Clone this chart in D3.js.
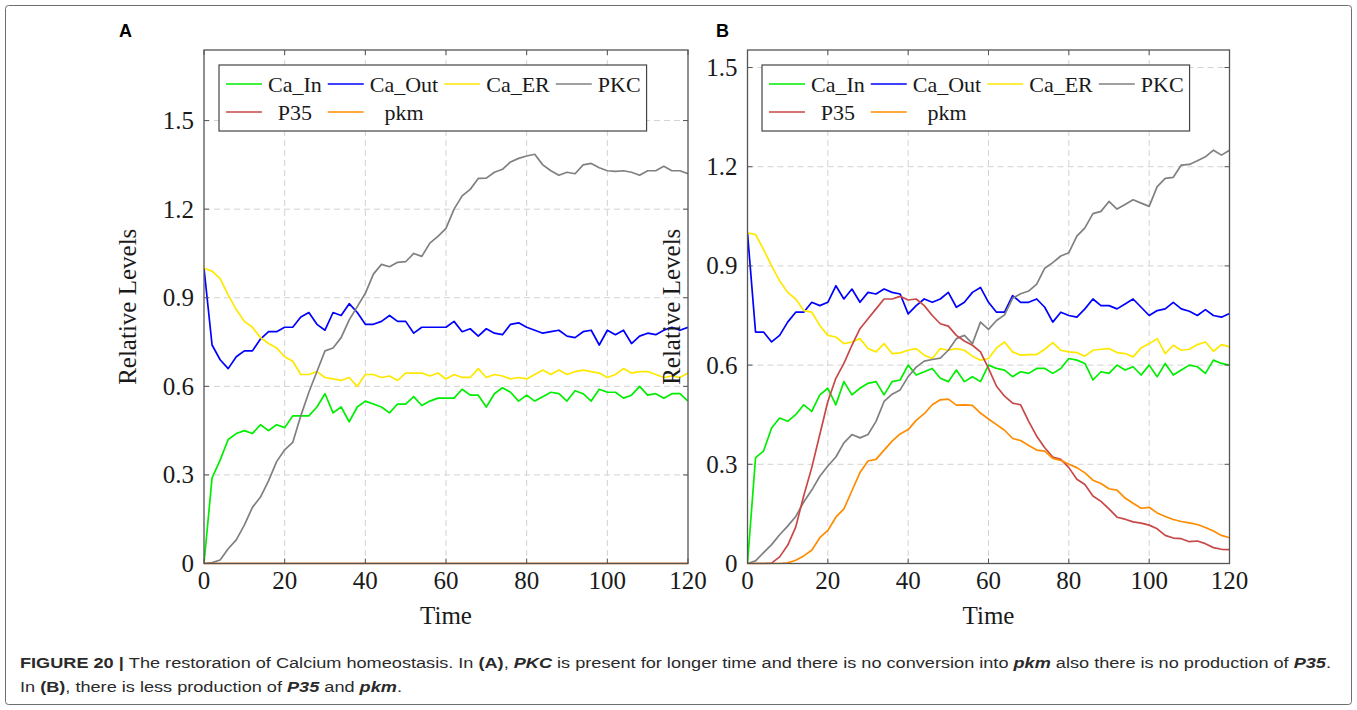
<!DOCTYPE html>
<html>
<head>
<meta charset="utf-8">
<script src="https://cdn.jsdelivr.net/npm/d3@7/dist/d3.min.js"></script>
<style>
  body { margin: 0; background: #fff; }
  svg { display: block; }
</style>
</head>
<body>
<svg id="chart"></svg>
<script>
const time = [0, 2, 4, 6, 8, 10, 12, 14, 16, 18, 20, 22, 24, 26, 28, 30, 32, 34, 36, 38, 40,
  42, 44, 46, 48, 50, 52, 54, 56, 58, 60, 62, 64, 66, 68, 70, 72, 74, 76, 78, 80,
  82, 84, 86, 88, 90, 92, 94, 96, 98, 100, 102, 104, 106, 108, 110, 112, 114, 116, 118, 120];

const seriesNames = ["Ca_In", "Ca_Out", "Ca_ER", "PKC", "P35", "pkm"];
const seriesColors = ["#00ee00", "#0000ff", "#ffe800", "#808080", "#c84848", "#ff8c00"];

// panel A
const aCaIn = [0, 0.29, 0.35, 0.42, 0.44, 0.45, 0.44, 0.47, 0.45, 0.47, 0.46, 0.50, 0.50, 0.50, 0.53, 0.575,
  0.51, 0.53, 0.48, 0.53, 0.55, 0.54, 0.53, 0.51, 0.54, 0.54, 0.565, 0.535, 0.55, 0.56, 0.56,
  0.56, 0.59, 0.57, 0.57, 0.53, 0.575, 0.595, 0.58, 0.55, 0.57, 0.55, 0.565, 0.58, 0.575, 0.55,
  0.585, 0.575, 0.55, 0.59, 0.58, 0.58, 0.56, 0.57, 0.60, 0.57, 0.575, 0.56, 0.575, 0.575, 0.55];
const aCaOut = [1.00, 0.74, 0.69, 0.66, 0.70, 0.72, 0.72, 0.76, 0.785, 0.785, 0.80, 0.80, 0.835, 0.85, 0.81,
  0.79, 0.85, 0.84, 0.88, 0.85, 0.81, 0.81, 0.82, 0.84, 0.82, 0.82, 0.78, 0.80, 0.80, 0.80, 0.80,
  0.82, 0.785, 0.795, 0.77, 0.795, 0.78, 0.775, 0.81, 0.815, 0.80, 0.79, 0.78, 0.785, 0.79, 0.77,
  0.765, 0.785, 0.79, 0.74, 0.79, 0.775, 0.79, 0.745, 0.77, 0.78, 0.775, 0.79, 0.80, 0.79, 0.80];
const aCaEr = [1.00, 0.99, 0.965, 0.91, 0.86, 0.82, 0.80, 0.765, 0.745, 0.73, 0.70, 0.685, 0.64, 0.64, 0.65,
  0.63, 0.625, 0.62, 0.63, 0.60, 0.64, 0.64, 0.63, 0.635, 0.62, 0.645, 0.645, 0.645, 0.635, 0.645,
  0.625, 0.64, 0.63, 0.63, 0.66, 0.63, 0.64, 0.635, 0.625, 0.63, 0.625, 0.64, 0.655, 0.64, 0.655,
  0.64, 0.65, 0.655, 0.65, 0.645, 0.63, 0.64, 0.66, 0.645, 0.65, 0.65, 0.64, 0.63, 0.635, 0.63, 0.645];
const aPkc = [0, 0.003, 0.012, 0.05, 0.08, 0.13, 0.19, 0.225, 0.28, 0.345, 0.385, 0.41, 0.50, 0.58, 0.65,
  0.72, 0.73, 0.765, 0.825, 0.87, 0.915, 0.98, 1.013, 1.005, 1.02, 1.022, 1.05, 1.04, 1.085, 1.108,
  1.135, 1.20, 1.245, 1.267, 1.304, 1.305, 1.325, 1.335, 1.36, 1.372, 1.38, 1.386, 1.35, 1.33, 1.315,
  1.325, 1.32, 1.35, 1.355, 1.34, 1.33, 1.328, 1.33, 1.325, 1.315, 1.33, 1.33, 1.345, 1.33, 1.33, 1.32];
const aP35 = [0, 0, 0, 0, 0, 0, 0, 0, 0, 0, 0, 0, 0, 0, 0, 0, 0, 0, 0, 0, 0, 0, 0, 0, 0, 0, 0, 0, 0, 0, 0,
  0, 0, 0, 0, 0, 0, 0, 0, 0, 0, 0, 0, 0, 0, 0, 0, 0, 0, 0, 0, 0, 0, 0, 0, 0, 0, 0, 0, 0, 0];
const aPkm = [0, 0, 0, 0, 0, 0, 0, 0, 0, 0, 0, 0, 0, 0, 0, 0, 0, 0, 0, 0, 0, 0, 0, 0, 0, 0, 0, 0, 0, 0, 0,
  0, 0, 0, 0, 0, 0, 0, 0, 0, 0, 0, 0, 0, 0, 0, 0, 0, 0, 0, 0, 0, 0, 0, 0, 0, 0, 0, 0, 0, 0];

// panel B
const bCaIn = [0, 0.32, 0.34, 0.41, 0.44, 0.43, 0.45, 0.48, 0.46, 0.51, 0.53, 0.48, 0.55, 0.51, 0.53, 0.545,
  0.55, 0.51, 0.55, 0.555, 0.60, 0.57, 0.58, 0.59, 0.56, 0.55, 0.585, 0.55, 0.565, 0.55, 0.60,
  0.59, 0.585, 0.565, 0.58, 0.575, 0.59, 0.59, 0.575, 0.59, 0.62, 0.615, 0.605, 0.555, 0.58, 0.575,
  0.60, 0.585, 0.595, 0.57, 0.60, 0.565, 0.605, 0.57, 0.585, 0.60, 0.595, 0.575, 0.615, 0.605, 0.60];
const bCaOut = [1.00, 0.70, 0.70, 0.67, 0.69, 0.73, 0.76, 0.76, 0.79, 0.78, 0.79, 0.84, 0.80, 0.83, 0.79,
  0.82, 0.815, 0.83, 0.82, 0.815, 0.755, 0.78, 0.80, 0.79, 0.80, 0.82, 0.775, 0.79, 0.82, 0.835,
  0.79, 0.76, 0.76, 0.81, 0.79, 0.79, 0.80, 0.775, 0.73, 0.76, 0.75, 0.745, 0.77, 0.80, 0.78,
  0.78, 0.77, 0.785, 0.80, 0.775, 0.75, 0.765, 0.77, 0.79, 0.77, 0.763, 0.75, 0.768, 0.75, 0.745, 0.756];
const bCaEr = [1.00, 0.995, 0.95, 0.90, 0.855, 0.82, 0.80, 0.765, 0.76, 0.72, 0.69, 0.685, 0.665, 0.67, 0.68,
  0.65, 0.64, 0.665, 0.635, 0.637, 0.645, 0.65, 0.63, 0.62, 0.65, 0.645, 0.65, 0.645, 0.627, 0.615,
  0.62, 0.652, 0.67, 0.64, 0.63, 0.632, 0.632, 0.648, 0.668, 0.645, 0.64, 0.638, 0.627, 0.645, 0.648,
  0.65, 0.638, 0.635, 0.625, 0.652, 0.665, 0.68, 0.635, 0.66, 0.645, 0.648, 0.662, 0.67, 0.642, 0.662, 0.655];
const bPkc = [0, 0.008, 0.033, 0.057, 0.087, 0.113, 0.142, 0.186, 0.222, 0.264, 0.295, 0.322, 0.365, 0.39, 0.38,
  0.39, 0.43, 0.49, 0.512, 0.525, 0.565, 0.594, 0.612, 0.617, 0.621, 0.645, 0.68, 0.69, 0.665, 0.73,
  0.708, 0.735, 0.752, 0.802, 0.816, 0.824, 0.845, 0.893, 0.91, 0.93, 0.94, 0.99, 1.015, 1.058, 1.065,
  1.095, 1.072, 1.086, 1.10, 1.09, 1.08, 1.14, 1.165, 1.168, 1.205, 1.207, 1.218, 1.23, 1.25, 1.235, 1.25];
const bP35 = [0, 0, 0, 0.001, 0.02, 0.055, 0.11, 0.205, 0.29, 0.39, 0.49, 0.56, 0.605, 0.66, 0.71,
  0.74, 0.77, 0.80, 0.80, 0.808, 0.797, 0.80, 0.78, 0.75, 0.725, 0.718, 0.69, 0.673, 0.66, 0.64,
  0.59, 0.536, 0.506, 0.485, 0.48, 0.43, 0.385, 0.35, 0.322, 0.315, 0.29, 0.255, 0.239, 0.204, 0.188,
  0.165, 0.14, 0.134, 0.126, 0.122, 0.116, 0.105, 0.085, 0.077, 0.075, 0.066, 0.068, 0.06, 0.048, 0.043, 0.042];
const bPkm = [0, 0, 0, 0, 0, 0.002, 0.01, 0.023, 0.04, 0.078, 0.10, 0.14, 0.165, 0.22, 0.275,
  0.31, 0.315, 0.343, 0.37, 0.392, 0.405, 0.433, 0.453, 0.48, 0.495, 0.497, 0.479, 0.48, 0.478, 0.455,
  0.437, 0.42, 0.403, 0.378, 0.372, 0.357, 0.343, 0.34, 0.318, 0.312, 0.30, 0.29, 0.274, 0.252, 0.242,
  0.226, 0.222, 0.198, 0.182, 0.167, 0.17, 0.153, 0.142, 0.133, 0.127, 0.123, 0.118, 0.109, 0.098, 0.085, 0.078];

const xTicks = [0, 20, 40, 60, 80, 100, 120];
const yTicks = [0, 0.3, 0.6, 0.9, 1.2, 1.5];
const xLabel = "Time";
const yLabel = "Relative Levels";

// caption pieces: [text, style]  (b = bold, bi = bold italic)
const captionLine1 = [["FIGURE 20 | ", "b"], ["The restoration of Calcium homeostasis. In ", ""], ["(A)", "b"], [", ", ""],
  ["PKC", "bi"], [" is present for longer time and there is no conversion into ", ""], ["pkm", "bi"],
  [" also there is no production of ", ""], ["P35", "bi"], [".", ""]];
const captionLine2 = [["In ", ""], ["(B)", "b"], [", there is less production of ", ""], ["P35", "bi"],
  [" and ", ""], ["pkm", "bi"], [".", ""]];

// ---- layout ----
const W = 1357, H = 710;
const plotTop = 50, plotBottom = 563.5;
const serif = "'Liberation Serif', 'DejaVu Serif', serif";
const sans = "'Liberation Sans', Arial, sans-serif";

const panels = [
  { letter: "A", x0: 204, x1: 688, yMax: 1.739, letterX: 119, legendX: 219,
    series: [aCaIn, aCaOut, aCaEr, aPkc, aP35, aPkm] },
  { letter: "B", x0: 747.5, x1: 1229.5, yMax: 1.553, letterX: 716, legendX: 762,
    series: [bCaIn, bCaOut, bCaEr, bPkc, bP35, bPkm] }
];

const svg = d3.select("#chart").attr("width", W).attr("height", H);

// outer frame
svg.append("rect")
  .attr("x", 5.5).attr("y", 5.5)
  .attr("width", W - 11).attr("height", H - 11)
  .attr("rx", 3)
  .attr("fill", "none")
  .attr("stroke", "#6e6e6e")
  .attr("stroke-width", 1);

panels.forEach((p, pi) => {
  const g = svg.append("g");
  const x = d3.scaleLinear().domain([0, 120]).range([p.x0, p.x1]);
  const y = d3.scaleLinear().domain([0, p.yMax]).range([plotBottom, plotTop]);

  // panel letter
  g.append("text")
    .attr("x", p.letterX).attr("y", 37)
    .attr("font-family", sans).attr("font-weight", "bold").attr("font-size", 18)
    .text(p.letter);

  // dashed grid
  g.append("g").selectAll("line")
    .data(xTicks.filter(t => t > 0 && t < 120))
    .join("line")
    .attr("x1", d => x(d)).attr("x2", d => x(d))
    .attr("y1", plotTop).attr("y2", plotBottom)
    .attr("stroke", "#d2d2d2").attr("stroke-dasharray", "6,4");
  g.append("g").selectAll("line")
    .data(yTicks.filter(t => t > 0))
    .join("line")
    .attr("x1", p.x0).attr("x2", p.x1)
    .attr("y1", d => y(d)).attr("y2", d => y(d))
    .attr("stroke", "#d2d2d2").attr("stroke-dasharray", "6,4");

  // series lines
  const clipId = "clip" + pi;
  g.append("clipPath").attr("id", clipId)
    .append("rect")
    .attr("x", p.x0).attr("y", plotTop)
    .attr("width", p.x1 - p.x0).attr("height", plotBottom - plotTop + 1);

  const line = d3.line()
    .x((d, i) => x(time[i]))
    .y(d => y(d));

  g.append("g").attr("clip-path", `url(#${clipId})`)
    .selectAll("path")
    .data(p.series)
    .join("path")
    .attr("d", d => line(d))
    .attr("fill", "none")
    .attr("stroke", (d, i) => seriesColors[i])
    .attr("stroke-width", 1.7)
    .attr("stroke-linejoin", "round");

  // axis box
  g.append("rect")
    .attr("x", p.x0).attr("y", plotTop)
    .attr("width", p.x1 - p.x0).attr("height", plotBottom - plotTop)
    .attr("fill", "none").attr("stroke", "#555").attr("stroke-width", 1.3);

  // inner tick marks on all sides
  const tickLen = 5;
  const tg = g.append("g").attr("stroke", "#555").attr("stroke-width", 1);
  xTicks.forEach(t => {
    tg.append("line").attr("x1", x(t)).attr("x2", x(t)).attr("y1", plotBottom).attr("y2", plotBottom - tickLen);
    tg.append("line").attr("x1", x(t)).attr("x2", x(t)).attr("y1", plotTop).attr("y2", plotTop + tickLen);
  });
  yTicks.forEach(t => {
    tg.append("line").attr("x1", p.x0).attr("x2", p.x0 + tickLen).attr("y1", y(t)).attr("y2", y(t));
    tg.append("line").attr("x1", p.x1).attr("x2", p.x1 - tickLen).attr("y1", y(t)).attr("y2", y(t));
  });

  // tick labels
  g.append("g").selectAll("text")
    .data(xTicks)
    .join("text")
    .attr("x", d => x(d)).attr("y", plotBottom + 25)
    .attr("text-anchor", "middle")
    .attr("font-family", serif).attr("font-size", 25).attr("fill", "#1a1a1a")
    .text(d => d);
  g.append("g").selectAll("text")
    .data(yTicks)
    .join("text")
    .attr("x", p.x0 - 10).attr("y", d => y(d))
    .attr("dy", "0.34em")
    .attr("text-anchor", "end")
    .attr("font-family", serif).attr("font-size", 25).attr("fill", "#1a1a1a")
    .text(d => d === 0 ? "0" : d.toFixed(1));

  // axis titles
  g.append("text")
    .attr("x", (p.x0 + p.x1) / 2).attr("y", plotBottom + 60)
    .attr("text-anchor", "middle")
    .attr("font-family", serif).attr("font-size", 25).attr("fill", "#1a1a1a")
    .text(xLabel);
  g.append("text")
    .attr("transform", `translate(${p.x0 - 68},${(plotTop + plotBottom) / 2}) rotate(-90)`)
    .attr("text-anchor", "middle")
    .attr("font-family", serif).attr("font-size", 25).attr("fill", "#1a1a1a")
    .text(yLabel);

  // legend: 4 columns, cell text centred in its column
  const lg = g.append("g");
  const lbox = lg.append("rect");
  const cols = 4, lineLen = 36, gap = 6, padL = 7, padR = 6;
  const rowY = [84, 112];
  const texts = seriesNames.map((name, i) => lg.append("text")
    .attr("font-family", serif).attr("font-size", 22).attr("fill", "#1a1a1a")
    .attr("text-anchor", "middle")
    .attr("y", rowY[Math.floor(i / cols)] + 8)
    .text(name));
  const widths = texts.map(t => t.node().getComputedTextLength());
  const colW = d3.range(cols).map(c => d3.max(widths.filter((w, i) => i % cols === c)));
  let cx = p.legendX + padL;
  const colStart = colW.map(w => { const s = cx; cx += lineLen + gap + w + gap; return s; });
  seriesNames.forEach((name, i) => {
    const c = i % cols, r = Math.floor(i / cols);
    lg.append("line")
      .attr("x1", colStart[c]).attr("x2", colStart[c] + lineLen)
      .attr("y1", rowY[r]).attr("y2", rowY[r])
      .attr("stroke", seriesColors[i]).attr("stroke-width", 1.7);
    texts[i].attr("x", colStart[c] + lineLen + gap + colW[c] / 2);
  });
  lbox.attr("x", p.legendX).attr("y", 65)
    .attr("width", cx - gap + padR - p.legendX).attr("height", 66)
    .attr("fill", "#fff").attr("stroke", "#444").attr("stroke-width", 1.2);
});

// caption
function caption(pieces, yPos) {
  const t = svg.append("text")
    .attr("x", 20).attr("y", yPos)
    .attr("font-family", sans).attr("font-size", 15.5).attr("fill", "#2a2a2a");
  pieces.forEach(([txt, st]) => {
    t.append("tspan")
      .attr("font-weight", st ? "bold" : null)
      .attr("font-style", st === "bi" ? "italic" : null)
      .text(txt);
  });
  return t;
}
const c1 = caption(captionLine1, 668);
const c2 = caption(captionLine2, 692);
const k = 1311 / c1.node().getComputedTextLength();
c1.attr("textLength", 1311).attr("lengthAdjust", "spacingAndGlyphs");
c2.attr("textLength", c2.node().getComputedTextLength() * k).attr("lengthAdjust", "spacingAndGlyphs");
</script>
</body>
</html>
